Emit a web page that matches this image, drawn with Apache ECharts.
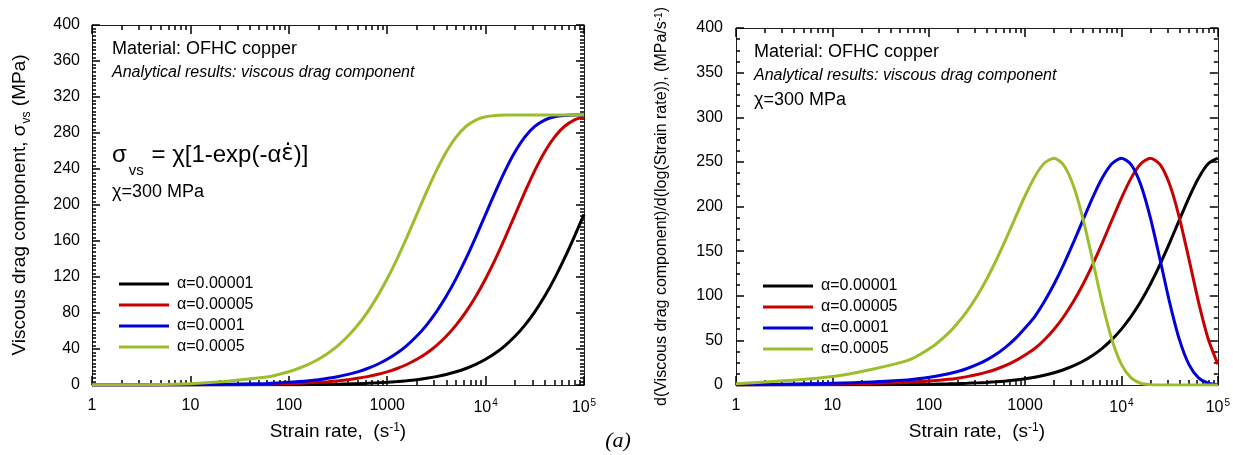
<!DOCTYPE html>
<html>
<head>
<meta charset="utf-8">
<script src="https://cdn.jsdelivr.net/npm/echarts@6/dist/echarts.min.js"></script>
<style>html,body{margin:0;padding:0;background:#fff;}#c{width:1233px;height:455px;}</style>
</head>
<body>
<div id="c"></div>
<script>
// Strain rate sample points (s^-1)
const strainRate = [1, 10, 60, 110, 160, 200, 250, 320, 400, 500, 630, 790, 1000, 1260, 1580, 2000, 2510, 3160, 3980, 5010, 6310, 7940, 10000, 12600, 15800, 20000, 25100, 31600, 39800, 50100, 63100, 79400, 100000];
const seriesNames = ['\u03b1=0.00001', '\u03b1=0.00005', '\u03b1=0.0001', '\u03b1=0.0005'];
// Left panel: viscous drag component (MPa)
const sigmaA1 = [0.003, 0.03, 0.18, 0.33, 0.48, 0.60, 0.75, 0.96, 1.20, 1.50, 1.88, 2.36, 2.99, 3.76, 4.70, 5.94, 7.44, 9.33, 11.71, 14.66, 18.35, 22.90, 28.55, 35.52, 43.85, 54.38, 66.59, 81.28, 98.50, 118.22, 140.38, 164.39, 189.64];
const sigmaA2 = [0.02, 0.15, 0.90, 1.65, 2.39, 2.99, 3.73, 4.76, 5.94, 7.41, 9.30, 11.62, 14.63, 18.32, 22.79, 28.55, 35.38, 43.85, 54.14, 66.48, 81.17, 98.30, 118.04, 140.22, 163.85, 189.64, 214.48, 238.21, 258.99, 275.50, 287.21, 294.34, 297.98];
const sigmaA3 = [0.03, 0.30, 1.79, 3.28, 4.76, 5.94, 7.41, 9.45, 11.76, 14.63, 18.32, 22.79, 28.55, 35.52, 43.85, 54.38, 66.59, 81.28, 98.50, 118.22, 140.38, 164.39, 189.64, 214.90, 238.21, 259.40, 275.62, 287.27, 294.39, 298.00, 299.45, 299.89, 299.99];
const sigmaA4 = [0.15, 1.50, 8.87, 16.05, 23.06, 28.55, 35.25, 44.36, 54.38, 66.36, 81.06, 97.90, 118.04, 140.22, 163.85, 189.64, 214.48, 238.21, 258.99, 275.50, 287.21, 294.34, 297.98, 299.45, 299.89, 299.99, 300, 300, 300, 300, 300, 300, 300];
// Right panel: d(viscous drag component)/d(log(strain rate)) (MPa)
const derivA1 = [0.03, 0.19, 0.57, 0.93, 1.28, 1.55, 1.90, 2.38, 2.93, 3.61, 4.50, 5.58, 7.01, 8.76, 10.91, 13.71, 17.07, 21.31, 26.58, 33.07, 41.07, 50.81, 62.64, 76.87, 93.32, 113.23, 135.00, 159.23, 184.73, 209.75, 231.95, 247.95, 254.12];
const derivA2 = [0.14, 0.96, 2.85, 4.63, 6.33, 7.68, 9.37, 11.71, 14.37, 17.66, 21.89, 27.02, 33.63, 40.86, 50.43, 62.50, 76.47, 93.19, 112.66, 134.70, 158.97, 184.38, 209.49, 231.78, 247.67, 254.12, 247.14, 224.81, 187.91, 141.33, 92.93, 51.76, 23.27];
const derivA3 = [0.27, 1.92, 5.67, 9.20, 12.54, 15.20, 18.48, 23.02, 28.14, 34.41, 42.38, 51.89, 63.90, 76.73, 93.19, 113.11, 134.90, 159.14, 184.66, 209.70, 231.92, 247.93, 254.12, 246.89, 224.81, 186.97, 140.91, 92.61, 51.37, 23.09, 7.92, 1.95, 0.31];
const derivA4 = [1.35, 9.47, 27.3, 43.1, 58.1, 69.44, 82.78, 100.28, 118.69, 139.47, 163.04, 187.29, 212.06, 233.46, 248.46, 254.10, 246.50, 223.77, 186.74, 140.27, 92.14, 51.28, 23.04, 7.91, 2.00, 0.31, 0.03, 0, 0, 0, 0, 0, 0];
// Tick values
const xMajorTicks = [1, 10, 100, 1000, 10000, 100000];
const xMinorTicks = [2,3,4,5,6,7,8,9,20,30,40,50,60,70,80,90,200,300,400,500,600,700,800,900,2000,3000,4000,5000,6000,7000,8000,9000,20000,30000,40000,50000,60000,70000,80000,90000];
const xTickLabels = {1: '1', 10: '10', 100: '100', 1000: '1000', 10000: '{b|10}{s|4}', 100000: '{b|10}{s|5}'};

const FONT = 'Liberation Sans, Arial, Helvetica, sans-serif';
const FRAME = '#1e1e1e';
const colors = ['#000000', '#c80000', '#0000dd', '#9cbe2c'];
const tickStyle = {color: '#000', width: 1.5};

function xAxes(g) {
  const base = {gridIndex: g, type: 'log', logBase: 10, min: 1, max: 100000, splitLine: {show: false}};
  const line = {show: true, onZero: false, lineStyle: {color: FRAME, width: 1}};
  return [
    Object.assign({}, base, {
      position: 'bottom', axisLine: line,
      axisTick: {show: true, inside: true, length: 9, customValues: xMajorTicks, lineStyle: tickStyle},
      axisLabel: {show: true, customValues: xMajorTicks, margin: 13, fontSize: 16, fontFamily: FONT, color: '#000',
        formatter: v => xTickLabels[Math.round(v)] || '',
        rich: {b: {fontSize: 16, fontFamily: FONT, color: '#000', lineHeight: 18, verticalAlign: 'bottom'},
               s: {fontSize: 10, fontFamily: FONT, color: '#000', lineHeight: 10, verticalAlign: 'top', padding: [0, 0, 0, 1]}}},
      name: 'Strain rate,  (s{sup|-1})', nameLocation: 'middle', nameGap: 37,
      nameTextStyle: {fontSize: 19, fontFamily: FONT, color: '#000',
        rich: {sup: {fontSize: 12, fontFamily: FONT, color: '#000', lineHeight: 12, verticalAlign: 'top'}}}
    }),
    Object.assign({}, base, {
      position: 'bottom', axisLine: {show: false, onZero: false},
      axisTick: {show: true, inside: true, length: 5, customValues: xMinorTicks, lineStyle: tickStyle},
      axisLabel: {show: false}
    }),
    Object.assign({}, base, {
      position: 'top', axisLine: line,
      axisTick: {show: true, inside: true, length: 9, customValues: xMajorTicks, lineStyle: tickStyle},
      axisLabel: {show: false}
    }),
    Object.assign({}, base, {
      position: 'top', axisLine: {show: false, onZero: false},
      axisTick: {show: true, inside: true, length: 5, customValues: xMinorTicks, lineStyle: tickStyle},
      axisLabel: {show: false}
    })
  ];
}

function yAxes(g, interval, minorSplit, name, nameGap, nameSize, rich, labelMargin) {
  const base = {gridIndex: g, type: 'value', min: 0, max: 400, interval: interval, splitLine: {show: false},
    axisLine: {show: true, onZero: false, lineStyle: {color: FRAME, width: 1}},
    axisTick: {show: true, inside: true, length: 8, lineStyle: tickStyle},
    minorTick: {show: true, splitNumber: minorSplit, length: 4, lineStyle: tickStyle},
    minorSplitLine: {show: false}};
  return [
    Object.assign({}, base, {position: 'left',
      axisLabel: {show: true, margin: labelMargin, fontSize: 16, fontFamily: FONT, color: '#000'},
      name: name, nameLocation: 'middle', nameGap: nameGap,
      nameTextStyle: {fontSize: nameSize, fontFamily: FONT, color: '#000', rich: rich}}),
    Object.assign({}, base, {position: 'right', axisLabel: {show: false}})
  ];
}

const leftRich = {
  m: {fontSize: 19, fontFamily: FONT, color: '#000', lineHeight: 20, verticalAlign: 'top'},
  sub: {fontSize: 12, fontFamily: FONT, color: '#000', lineHeight: 12, verticalAlign: 'top', padding: [11, 0, 0, 1]}
};
const rightRich = {
  sup: {fontSize: 10, fontFamily: FONT, color: '#000', lineHeight: 10, verticalAlign: 'top'}
};

const sigmaSets = [sigmaA1, sigmaA2, sigmaA3, sigmaA4];
const derivSets = [derivA1, derivA2, derivA3, derivA4];
const series = [];
function addSeries(sets, xi, yi) {
  sets.forEach((vals, i) => series.push({
    name: seriesNames[i], type: 'line', xAxisIndex: xi, yAxisIndex: yi, showSymbol: false, symbol: 'none',
    smooth: 0.25,
    lineStyle: {color: colors[i], width: 3}, itemStyle: {color: colors[i]},
    data: strainRate.map((x, k) => [x, vals[k]])
  }));
}
addSeries(sigmaSets, 0, 0);
addSeries(derivSets, 4, 2);

function legend(left, top) {
  return {left: left, top: top, orient: 'vertical', padding: 0, itemGap: 5, itemWidth: 50, itemHeight: 3,
    icon: 'rect', data: seriesNames, selectedMode: false,
    textStyle: {fontSize: 16, fontFamily: FONT, color: '#000', padding: [0, 0, 0, 3]}};
}

function txt(x, y, text, size, extra) {
  return {type: 'text', x: x, y: y, silent: true,
    style: Object.assign({text: text, fontSize: size, fontFamily: FONT, fill: '#000', verticalAlign: 'middle', align: 'left'}, extra || {})};
}

const chart = echarts.init(document.getElementById('c'), null, {renderer: 'canvas'});
chart.setOption({
  animation: false,
  backgroundColor: '#fff',
  grid: [
    {left: 92, top: 25, width: 492, height: 360},
    {left: 736, top: 28, width: 485, height: 357}
  ],
  xAxis: xAxes(0).concat(xAxes(1)),
  yAxis: yAxes(0, 40, 10, '{m|Viscous drag component, \u03c3}{sub|vs}{m| (MPa)}', 62, 19, leftRich, 12)
    .concat(yAxes(1, 50, 4, 'd(Viscous drag component)/d(log(Strain rate)), (MPa/s{sup|-1})', 66, 16, rightRich, 13)),
  legend: [legend(119, 276), legend(763, 278)],
  series: series,
  graphic: [
    txt(112, 49, 'Material: OFHC copper', 18),
    txt(112, 73, 'Analytical results: viscous drag component', 16, {fontStyle: 'italic'}),
    {type: 'text', x: 112, y: 143, silent: true, style: {
      text: '{m|\u03c3}{s|vs}{m| = \u03c7[1-exp(-\u03b1}{e|\u03b5\u0307}{m|)]}',
      fontFamily: FONT, fill: '#000', align: 'left', verticalAlign: 'top',
      rich: {m: {fontSize: 24, fontFamily: FONT, lineHeight: 28, verticalAlign: 'top'},
             e: {fontSize: 23, fontFamily: 'DejaVu Sans', lineHeight: 30, verticalAlign: 'top'},
             s: {fontSize: 15, fontFamily: FONT, lineHeight: 15, verticalAlign: 'top', padding: [20, 1, 0, 2]}}}},
    txt(112, 192, '\u03c7=300 MPa', 18),
    txt(754, 52, 'Material: OFHC copper', 18),
    txt(754, 76, 'Analytical results: viscous drag component', 16, {fontStyle: 'italic'}),
    txt(754, 100, '\u03c7=300 MPa', 18),
    {type: 'text', x: 618, y: 441, silent: true, style: {text: '(a)', fontSize: 22, fontStyle: 'italic',
      fontFamily: 'Liberation Serif, Times New Roman, serif', fill: '#000', align: 'center', verticalAlign: 'middle'}}
  ]
});
</script>
</body>
</html>
